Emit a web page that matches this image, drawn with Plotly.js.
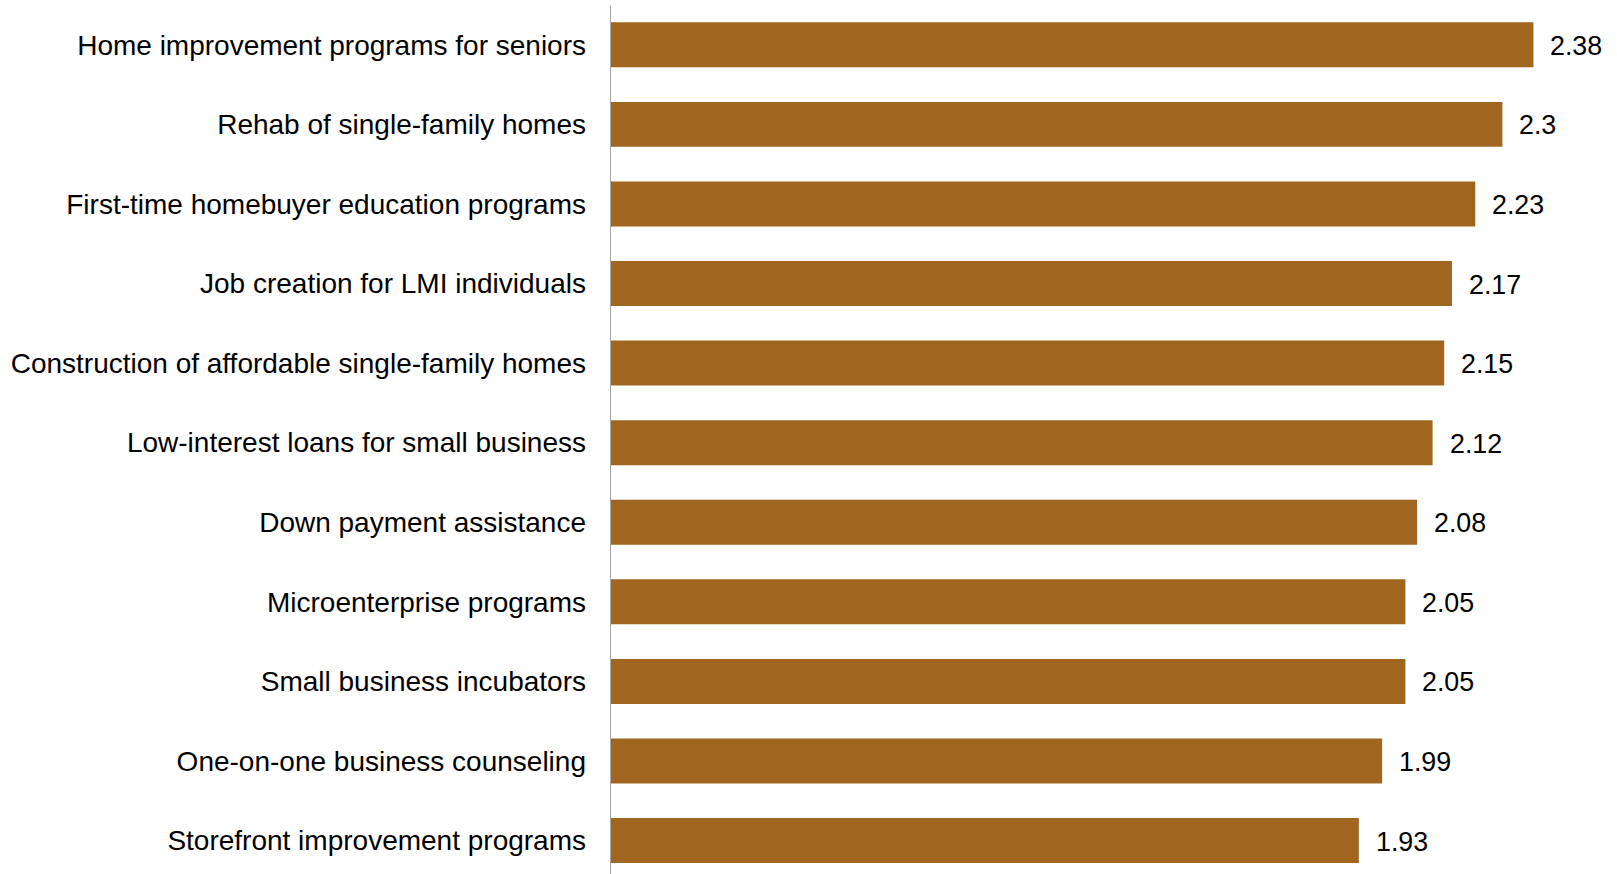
<!DOCTYPE html>
<html>
<head>
<meta charset="utf-8">
<script src="https://cdn.plot.ly/plotly-3.0.1.min.js"></script>
<style>html,body{margin:0;padding:0;background:#fff;}#chart{width:1617px;height:874px;}</style>
</head>
<body>
<div id="chart"></div>
<script>
const categories = [
  "Home improvement programs for seniors",
  "Rehab of single-family homes",
  "First-time homebuyer education programs",
  "Job creation for LMI individuals",
  "Construction of affordable single-family homes",
  "Low-interest loans for small business",
  "Down payment assistance",
  "Microenterprise programs",
  "Small business incubators",
  "One-on-one business counseling",
  "Storefront improvement programs"
];
const values = [2.38, 2.3, 2.23, 2.17, 2.15, 2.12, 2.08, 2.05, 2.05, 1.99, 1.93];
const valueLabels = ["2.38", "2.3", "2.23", "2.17", "2.15", "2.12", "2.08", "2.05", "2.05", "1.99", "1.93"];

const labelFont = {family: "Liberation Sans, Arial, sans-serif", size: 28, color: "#000"};
const valueFont = {family: "Liberation Sans, Arial, sans-serif", size: 26.8, color: "#000"};

const trace = {
  type: "bar",
  orientation: "h",
  x: values,
  y: categories,
  marker: {color: "#A0661F"},
  hoverinfo: "none"
};

const annotations = categories.map((c, i) => ({
  x: values[i], y: c, xref: "x", yref: "y",
  text: valueLabels[i], showarrow: false,
  xanchor: "left", yanchor: "middle", xshift: 15, yshift: -1,
  font: valueFont
}));

const layout = {
  width: 1617, height: 874,
  margin: {l: 610, r: 37, t: 5, b: 0, pad: 0},
  paper_bgcolor: "#fff", plot_bgcolor: "#fff",
  bargap: 0.435,
  showlegend: false,
  xaxis: {range: [0, 2.5], showgrid: false, zeroline: false, showline: false, showticklabels: false, ticks: ""},
  yaxis: {range: [10.42, -0.5], showgrid: false, zeroline: false, showline: false,
          ticks: "", ticklabelstandoff: 23, tickfont: labelFont, automargin: false},
  annotations: annotations,
  shapes: [{type: "line", xref: "x", yref: "paper", x0: 0, x1: 0, y0: 0, y1: 1,
            line: {color: "#A6A6A6", width: 2}}]
};

Plotly.newPlot("chart", [trace], layout, {displayModeBar: false, staticPlot: true});
</script>
</body>
</html>
